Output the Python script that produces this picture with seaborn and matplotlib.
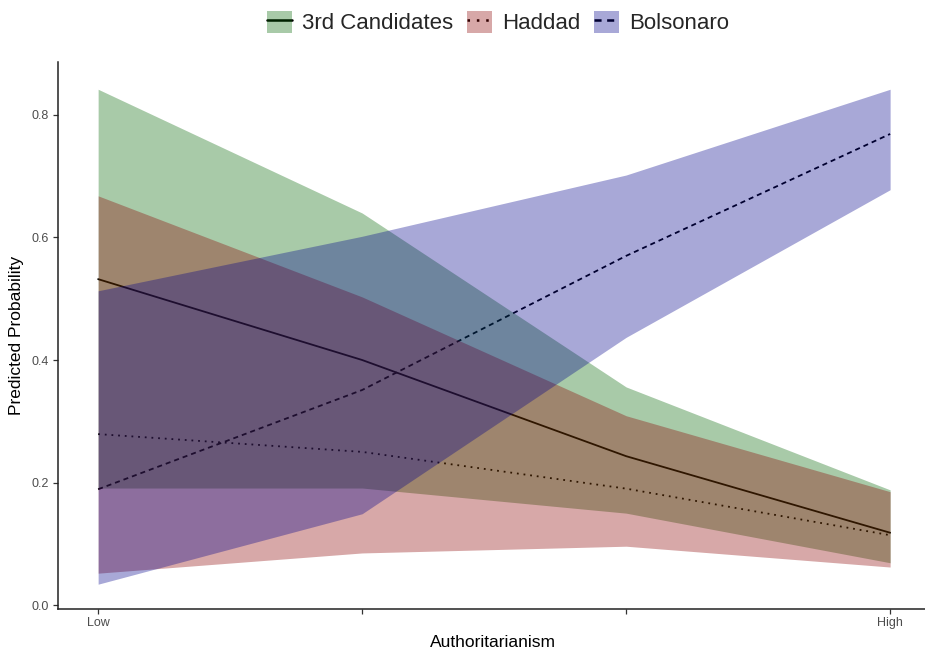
import numpy as np
import pandas as pd
import seaborn as sns
import matplotlib
matplotlib.use("Agg")
import matplotlib.pyplot as plt
from matplotlib.patches import Patch
from matplotlib.lines import Line2D

# Predicted probabilities across four levels of authoritarianism
x_levels = [1, 2, 3, 4]
x_ticklabels = ["Low", "", "", "High"]
candidates = ["3rd Candidates", "Haddad", "Bolsonaro"]

third_fit = [0.532, 0.400, 0.243, 0.118]
third_lo = [0.191, 0.191, 0.150, 0.069]
third_hi = [0.842, 0.640, 0.356, 0.188]

haddad_fit = [0.279, 0.250, 0.190, 0.114]
haddad_lo = [0.052, 0.085, 0.096, 0.062]
haddad_hi = [0.668, 0.503, 0.309, 0.185]

bolso_fit = [0.189, 0.351, 0.570, 0.769]
bolso_lo = [0.034, 0.149, 0.437, 0.678]
bolso_hi = [0.513, 0.602, 0.702, 0.842]

fills = {"3rd Candidates": "darkgreen", "Haddad": "darkred", "Bolsonaro": "darkblue"}
fill_alpha = 0.34

fits = {"3rd Candidates": third_fit, "Haddad": haddad_fit, "Bolsonaro": bolso_fit}
lows = {"3rd Candidates": third_lo, "Haddad": haddad_lo, "Bolsonaro": bolso_lo}
highs = {"3rd Candidates": third_hi, "Haddad": haddad_hi, "Bolsonaro": bolso_hi}

df = pd.DataFrame({
    "x": x_levels * 3,
    "prob": third_fit + haddad_fit + bolso_fit,
    "cand": sum([[c] * 4 for c in candidates], []),
})

sns.set_theme(style="white")
plt.rcParams["font.family"] = ["Liberation Sans", "DejaVu Sans"]

fig = plt.figure(figsize=(9.25, 6.52), dpi=100)
ax = fig.add_axes([58 / 925, 43 / 652, 867 / 925, 547 / 652])

lw = 1.3
dash_styles = {"3rd Candidates": "", "Haddad": (1, 2.7), "Bolsonaro": (2.8, 2.2)}
sns.lineplot(data=df, x="x", y="prob", hue="cand", style="cand",
             palette={c: "black" for c in candidates}, dashes=dash_styles,
             linewidth=lw, ax=ax, legend=False, zorder=1)

for c in candidates:
    ax.fill_between(x_levels, lows[c], highs[c], color=fills[c],
                    alpha=fill_alpha, linewidth=0, zorder=2)

ax.set_xlim(0.848, 0.848 + 867 / 264)
ax.set_ylim(-0.0065, 0.8865)
ax.set_xticks(x_levels)
ax.set_xticklabels(x_ticklabels)
ax.set_yticks([0.0, 0.2, 0.4, 0.6, 0.8])
ax.set_yticklabels(["0.0", "0.2", "0.4", "0.6", "0.8"])

for side in ["top", "right"]:
    ax.spines[side].set_visible(False)
for side in ["left", "bottom"]:
    ax.spines[side].set_color("#222222")
    ax.spines[side].set_linewidth(1.1)

ax.tick_params(axis="both", which="both", length=3.6, width=0.9,
               color="#333333", labelcolor="#4D4D4D", labelsize=9,
               left=True, bottom=True)
ax.tick_params(axis="y", pad=2.9)
ax.tick_params(axis="x", pad=2.5)

ax.set_xlabel("Authoritarianism", fontsize=12.5, color="black")
ax.set_ylabel("Predicted Probability", fontsize=12.5, color="black")
ax.xaxis.set_label_coords(0.502, -0.062)
ax.xaxis.label.set_va("center")
ax.yaxis.set_label_coords((17 - 58) / 867, 0.5)
ax.yaxis.label.set_va("center")

handles = []
for c in candidates:
    line = Line2D([], [], color="black", linewidth=lw * 1.4,
                  dashes=dash_styles[c] if dash_styles[c] else (None, None),
                  linestyle="-" if not dash_styles[c] else "--")
    patch = Patch(facecolor=fills[c], alpha=fill_alpha, linewidth=0)
    handles.append((line, patch))

fig.legend(handles, candidates, loc="center", bbox_to_anchor=(498 / 925, 1 - 22.5 / 652),
           ncol=3, frameon=False, fontsize=16, handlelength=1.13, handleheight=1.13,
           handletextpad=0.45, columnspacing=0.6, borderpad=0)

fig.savefig("out.png", dpi=100)
